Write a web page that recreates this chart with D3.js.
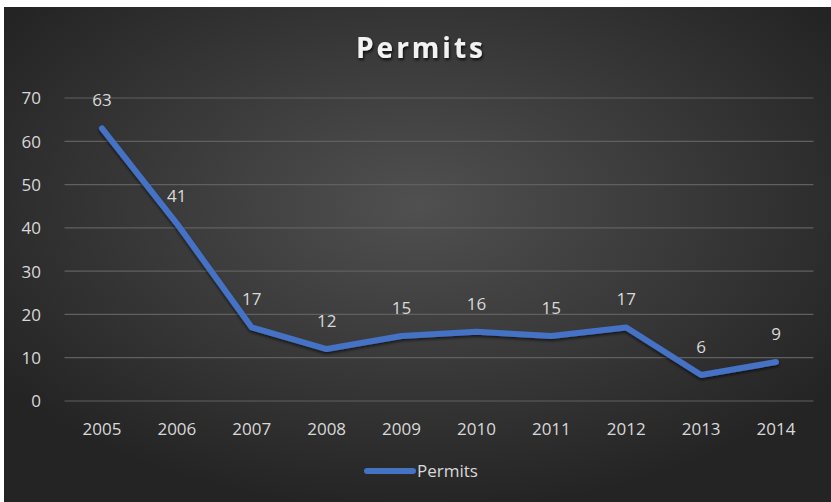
<!DOCTYPE html>
<html>
<head>
<meta charset="utf-8">
<script src="https://cdn.jsdelivr.net/npm/d3@7"></script>
<style>
  html, body { margin: 0; padding: 0; background: #ffffff; }
  svg { display: block; }
</style>
</head>
<body>
<svg id="chart" width="831" height="502"></svg>
<script>
// Permit counts by year
const years = ["2005", "2006", "2007", "2008", "2009", "2010", "2011", "2012", "2013", "2014"];
const permits = [63, 41, 17, 12, 15, 16, 15, 17, 6, 9];
const yTicks = [0, 10, 20, 30, 40, 50, 60, 70];
const seriesName = "Permits";
const chartTitle = "Permits";

const W = 831, H = 502;
const font = "'Open Sans', 'Noto Sans', sans-serif";
const labelSize = 17;
const svg = d3.select("#chart");
const defs = svg.append("defs");

// Dark radial background
const grad = defs.append("radialGradient")
  .attr("id", "bg").attr("cx", "50%").attr("cy", "40%").attr("r", "62%");
grad.append("stop").attr("offset", "0%").attr("stop-color", "#505050");
grad.append("stop").attr("offset", "100%").attr("stop-color", "#242424");

const shadow = defs.append("filter").attr("id", "shadow")
  .attr("x", "-20%").attr("y", "-40%").attr("width", "140%").attr("height", "180%");
shadow.append("feDropShadow").attr("dx", 1).attr("dy", 2).attr("stdDeviation", 1.5)
  .attr("flood-color", "#000").attr("flood-opacity", 0.8);

const lineShadow = defs.append("filter").attr("id", "lshadow")
  .attr("x", "-10%").attr("y", "-10%").attr("width", "120%").attr("height", "130%");
lineShadow.append("feDropShadow").attr("dx", 0).attr("dy", 2).attr("stdDeviation", 1.5)
  .attr("flood-color", "#000").attr("flood-opacity", 0.6);

svg.append("rect").attr("x", 4).attr("y", 7).attr("width", W - 4).attr("height", H - 7)
  .attr("fill", "url(#bg)");

// Plot area
const plot = { left: 64.5, right: 813.5, top: 98, bottom: 401 };

const x = d3.scaleBand().domain(years).range([plot.left, plot.right]);
const y = d3.scaleLinear().domain([0, 70]).range([plot.bottom, plot.top]);
const cx = d => x(d) + x.bandwidth() / 2;

// Gridlines
svg.append("g").selectAll("line").data(yTicks).join("line")
  .attr("x1", plot.left).attr("x2", plot.right)
  .attr("y1", d => y(d)).attr("y2", d => y(d))
  .attr("stroke", "#606060").attr("stroke-width", 1.2);

// Y axis labels
const yAxis = d3.axisLeft(y).tickValues(yTicks).tickSize(0).tickPadding(0);
const gy = svg.append("g").attr("transform", `translate(41,0)`).call(yAxis);
gy.select(".domain").remove();
gy.selectAll("text").attr("fill", "#d9d9d9").attr("font-size", labelSize)
  .attr("font-family", font).attr("dy", "0.35em");

// X axis labels
const xAxis = d3.axisBottom(x).tickSize(0).tickPadding(0);
const gx = svg.append("g").attr("transform", `translate(0,${plot.bottom + 22})`).call(xAxis);
gx.select(".domain").remove();
gx.selectAll("text").attr("fill", "#d9d9d9").attr("font-size", labelSize)
  .attr("font-family", font).attr("dy", "0.71em");

// Series line
const data = years.map((yr, i) => ({ year: yr, value: permits[i] }));
const line = d3.line().x(d => cx(d.year)).y(d => y(d.value));
svg.append("path").datum(data)
  .attr("d", line)
  .attr("fill", "none")
  .attr("stroke", "#4472c4")
  .attr("stroke-width", 6)
  .attr("stroke-linejoin", "round")
  .attr("stroke-linecap", "round")
  .attr("filter", "url(#lshadow)");

// Data labels above each point
svg.append("g").selectAll("text").data(data).join("text")
  .attr("x", d => cx(d.year))
  .attr("y", d => y(d.value) - 22)
  .attr("text-anchor", "middle")
  .attr("fill", "#d9d9d9").attr("font-size", labelSize).attr("font-family", font)
  .text(d => d.value);

// Title
svg.append("text")
  .attr("x", 421).attr("y", 58)
  .attr("text-anchor", "middle")
  .attr("fill", "#f2f2f2").attr("font-size", 28).attr("font-weight", "bold")
  .attr("font-family", font).attr("letter-spacing", 3)
  .attr("filter", "url(#shadow)")
  .text(chartTitle);

// Legend
const lg = svg.append("g").attr("transform", "translate(0,471)");
lg.append("line").attr("x1", 367).attr("x2", 413).attr("y1", 0).attr("y2", 0)
  .attr("stroke", "#4472c4").attr("stroke-width", 6).attr("stroke-linecap", "round");
lg.append("text").attr("x", 417).attr("y", 0).attr("dy", "0.35em")
  .attr("fill", "#d9d9d9").attr("font-size", labelSize).attr("font-family", font)
  .text(seriesName);
</script>
</body>
</html>
